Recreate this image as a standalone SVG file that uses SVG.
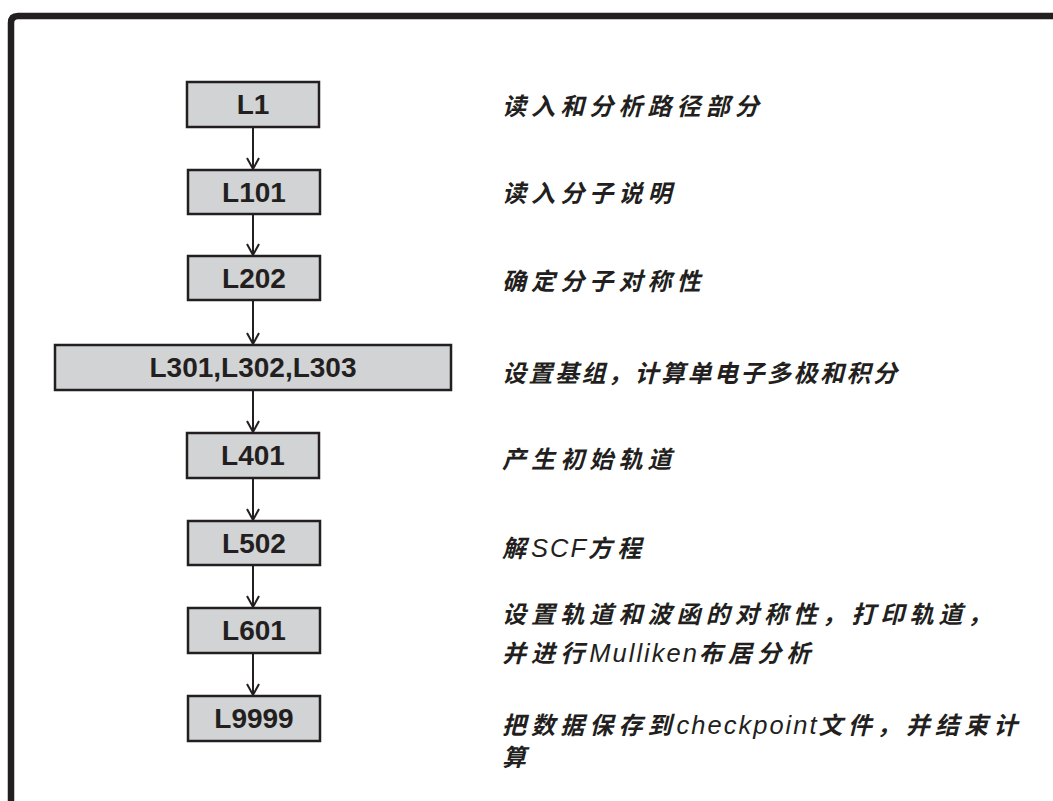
<svg xmlns="http://www.w3.org/2000/svg" width="1053" height="801" viewBox="0 0 1053 801">
<style>
.frame{fill:none;stroke:#231f20;stroke-width:6.5}
.box{fill:#d1d3d4;stroke:#231f20;stroke-width:2.5}
.lbl{font-family:"Liberation Sans",Arial,sans-serif;font-weight:bold;font-size:28px;fill:#231f20;text-anchor:middle}
.desc{font-family:"Liberation Sans","Noto Sans CJK SC",sans-serif;font-style:italic;font-weight:bold;font-size:24px;fill:#231f20;letter-spacing:5.1px}
.lat{font-family:"Liberation Sans",Arial,sans-serif;font-style:italic;font-weight:normal;font-size:25.5px;letter-spacing:2px}
.conn line{stroke:#231f20;stroke-width:2}
</style>
<defs>
<marker id="arr" markerWidth="16" markerHeight="16" refX="12" refY="7" orient="auto" markerUnits="userSpaceOnUse">
<path d="M1,1 L12,7 L1,13" fill="none" stroke="#231f20" stroke-width="2"/>
</marker>
</defs>
<rect width="1053" height="801" fill="#ffffff"/>
<path class="frame" d="M11,801 L11,23 Q11,16 18,16 L1053,16"/>
<g id="connectors" class="conn">
<line x1="253" y1="127" x2="253" y2="169" marker-end="url(#arr)"/>
<line x1="253" y1="214" x2="253" y2="255" marker-end="url(#arr)"/>
<line x1="253" y1="300" x2="253" y2="344" marker-end="url(#arr)"/>
<line x1="253" y1="390" x2="253" y2="432" marker-end="url(#arr)"/>
<line x1="253" y1="478" x2="253" y2="520" marker-end="url(#arr)"/>
<line x1="253" y1="565" x2="253" y2="607" marker-end="url(#arr)"/>
<line x1="253" y1="653" x2="253" y2="695" marker-end="url(#arr)"/>
</g>
<g id="n1"><rect class="box" x="187" y="82" width="132" height="45"/><text class="lbl" x="253" y="114">L1</text></g>
<g id="n101"><rect class="box" x="188" y="170" width="132" height="44"/><text class="lbl" x="254" y="202">L101</text></g>
<g id="n202"><rect class="box" x="188" y="256" width="132" height="44"/><text class="lbl" x="254" y="288">L202</text></g>
<g id="n301"><rect class="box" x="55" y="345" width="396" height="45"/><text class="lbl" x="253" y="377">L301,L302,L303</text></g>
<g id="n401"><rect class="box" x="187" y="433" width="132" height="45"/><text class="lbl" x="253" y="465">L401</text></g>
<g id="n502"><rect class="box" x="188" y="521" width="132" height="44"/><text class="lbl" x="254" y="553">L502</text></g>
<g id="n601"><rect class="box" x="188" y="608" width="132" height="45"/><text class="lbl" x="254" y="640">L601</text></g>
<g id="n9999"><rect class="box" x="188" y="696" width="132" height="45"/><text class="lbl" x="254" y="728">L9999</text></g>
<g id="descriptions">
<text class="desc" x="502" y="115">读入和分析路径部分</text>
<text class="desc" x="502" y="202">读入分子说明</text>
<text class="desc" x="502" y="290">确定分子对称性</text>
<text class="desc" x="502" y="382" style="letter-spacing:2.5px">设置基组，计算单电子多极和积分</text>
<text class="desc" x="502" y="468">产生初始轨道</text>
<text class="desc" x="502" y="557">解<tspan class="lat">SCF</tspan>方程</text>
<text class="desc" x="502" y="623">设置轨道和波函的对称性，打印轨道，</text>
<text class="desc" x="502" y="662">并进行<tspan class="lat">Mulliken</tspan>布居分析</text>
<text class="desc" x="502" y="734">把数据保存到<tspan class="lat">checkpoint</tspan>文件，并结束计</text>
<text class="desc" x="502" y="766">算</text>
</g>
</svg>
